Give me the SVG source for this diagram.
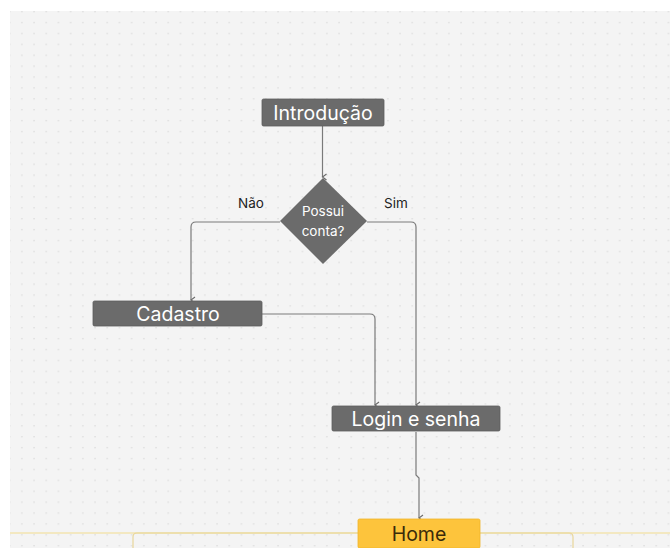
<svg xmlns="http://www.w3.org/2000/svg" width="670" height="548" viewBox="0 0 670 548">
  <defs>
    <pattern id="dots" x="4" y="6" width="12.2" height="10.9" patternUnits="userSpaceOnUse">
      <rect x="5" y="5" width="1.3" height="1.3" fill="#d9d9d9"/>
    </pattern>
    <marker id="arrow" markerWidth="8" markerHeight="8" refX="4" refY="6" orient="auto-start-reverse" markerUnits="userSpaceOnUse" viewBox="0 0 8 8">
      <polyline points="1,2 4,6 7,2" fill="none" stroke="#6a6a6a" stroke-width="1.1"/>
    </marker>
    <style>
      .box { fill: #6b6b6b; stroke: #5e5e5e; stroke-width: 0.8; }
      .lbl { font-family: Inter, "Liberation Sans", sans-serif; fill: #ffffff; text-anchor: middle; }
      .big { font-size: 19.5px; }
      .small { font-size: 13.5px; }
      .edge { fill: none; stroke: #7a7a7a; stroke-width: 1.2; }
      .cap { font-family: Inter, "Liberation Sans", sans-serif; font-size: 13.5px; fill: #222222; text-anchor: middle; }
    </style>
  </defs>
  <rect x="0" y="0" width="670" height="548" fill="#ffffff"/>
  <rect x="10" y="11" width="660" height="537" fill="#f4f4f4"/>
  <rect x="10" y="11" width="660" height="537" fill="url(#dots)"/>

  <g id="container">
    <line x1="10" y1="533" x2="670" y2="533" stroke="#f2dc8e" stroke-width="1.2"/>
    <path d="M133 548 V537 Q133 533 137 533 H569 Q573 533 573 537 V548" fill="none" stroke="#e8d69a" stroke-width="1.2"/>
  </g>

  <g id="connectors">
    <path class="edge" d="M322.5 126 V177" marker-end="url(#arrow)"/>
    <path class="edge" d="M280 222 H196 Q191 222 191 227 V300" marker-end="url(#arrow)"/>
    <path class="edge" d="M367 222 H411 Q416 222 416 227 V405" marker-end="url(#arrow)"/>
    <path class="edge" d="M262 314 H370 Q375 314 375 319 V405" marker-end="url(#arrow)"/>
    <path class="edge" d="M416 432 V475 L419 478 V518" marker-end="url(#arrow)"/>
  </g>

  <g id="introducao">
    <rect class="box" x="262" y="99" width="122" height="27" rx="1.5"/>
    <text class="lbl big" x="323" y="119.5">Introdução</text>
  </g>

  <g id="possui-conta">
    <polygon points="323,178 367,221 323,264 280,221" fill="#6b6b6b"/>
    <text class="lbl small" x="323" y="216">Possui</text>
    <text class="lbl small" x="323" y="236">conta?</text>
  </g>

  <g id="labels">
    <text class="cap" x="251" y="208">Não</text>
    <text class="cap" x="396" y="208">Sim</text>
  </g>

  <g id="cadastro">
    <rect class="box" x="93" y="301" width="169" height="25" rx="1.5"/>
    <text class="lbl big" x="178" y="320.5">Cadastro</text>
  </g>

  <g id="login">
    <rect class="box" x="332" y="406" width="168" height="25" rx="1.5"/>
    <text class="lbl big" x="416" y="425.5">Login e senha</text>
  </g>

  <g id="home">
    <rect x="358" y="519" width="122" height="29" rx="1.5" fill="#fdc43c" stroke="#f0b52a" stroke-width="0.8"/>
    <text x="419" y="540.5" font-family="Inter, 'Liberation Sans', sans-serif" font-size="19.5" fill="#3a2a0a" text-anchor="middle">Home</text>
  </g>
</svg>
